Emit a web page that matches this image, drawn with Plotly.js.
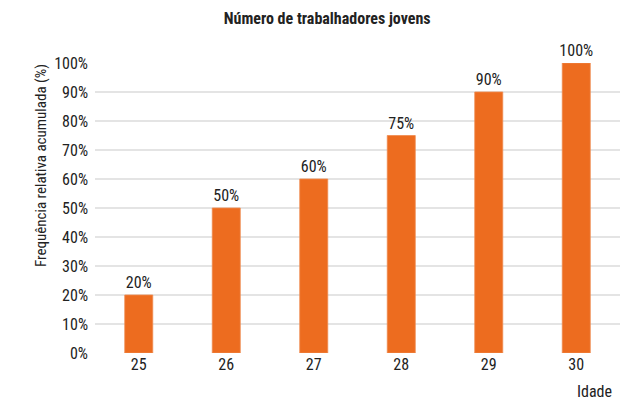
<!DOCTYPE html>
<html><head><meta charset="utf-8">
<script src="https://cdn.plot.ly/plotly-3.0.1.min.js"></script>
<style>body{margin:0;background:#fff}#c{width:622px;height:412px}</style>
</head><body><div id="c"></div>
<script>
const idades = ['25','26','27','28','29','30'];
const frequencias = [20, 50, 60, 75, 90, 100];
const rotulos = ['20%','50%','60%','75%','90%','100%'];
const yTicks = [0,10,20,30,40,50,60,70,80,90,100];
const yTickLabels = yTicks.map(v => v + '%');

const FONT = "'Roboto Condensed', 'Liberation Sans Narrow', 'DejaVu Sans Condensed', Roboto, sans-serif";

Plotly.newPlot('c', [{
  type: 'bar',
  x: idades,
  y: frequencias,
  text: rotulos,
  textposition: 'outside',
  constraintext: 'none',
  cliponaxis: false,
  textfont: {family: FONT, size: 16, color: '#222'},
  marker: {color: '#ED6C1F', line: {color: '#F08A4E', width: 0.8}},
  hoverinfo: 'none'
}], {
  width: 622, height: 412,
  paper_bgcolor: '#fff', plot_bgcolor: '#fff',
  margin: {l: 95, r: 2, t: 63, b: 59},
  bargap: 0.68,
  font: {family: FONT, color: '#222'},
  title: {text: '<b>Número de trabalhadores jovens</b>', font: {family: FONT, size: 16, color: '#222'},
          xref: 'container', x: 0.526, xanchor: 'center', yref: 'container', y: 0.955, yanchor: 'middle'},
  xaxis: {type: 'category', range: [-0.5, 5.5], showgrid: false, showline: false, zeroline: false,
          ticks: '', tickfont: {family: FONT, size: 16, color: '#222'}},
  yaxis: {range: [0, 100], tickvals: yTicks, ticktext: yTickLabels, showgrid: true, gridcolor: '#E4E4E4',
          gridwidth: 1.5, zeroline: false, showline: false, ticks: '',
          tickfont: {family: FONT, size: 16, color: '#222'}, ticklabelstandoff: 6},
  annotations: [
    {text: 'Idade', xref: 'paper', yref: 'paper', x: 0.952, y: -0.134, xanchor: 'center', yanchor: 'middle',
     showarrow: false, font: {family: FONT, size: 16, color: '#222'}},
    {text: 'Frequência relativa acumulada (%)', xref: 'paper', yref: 'paper', x: -0.103, y: 0.648,
     xanchor: 'center', yanchor: 'middle', textangle: -90, showarrow: false,
     font: {family: FONT, size: 15, color: '#222'}}
  ],
  showlegend: false
}, {staticPlot: true});
</script></body></html>
